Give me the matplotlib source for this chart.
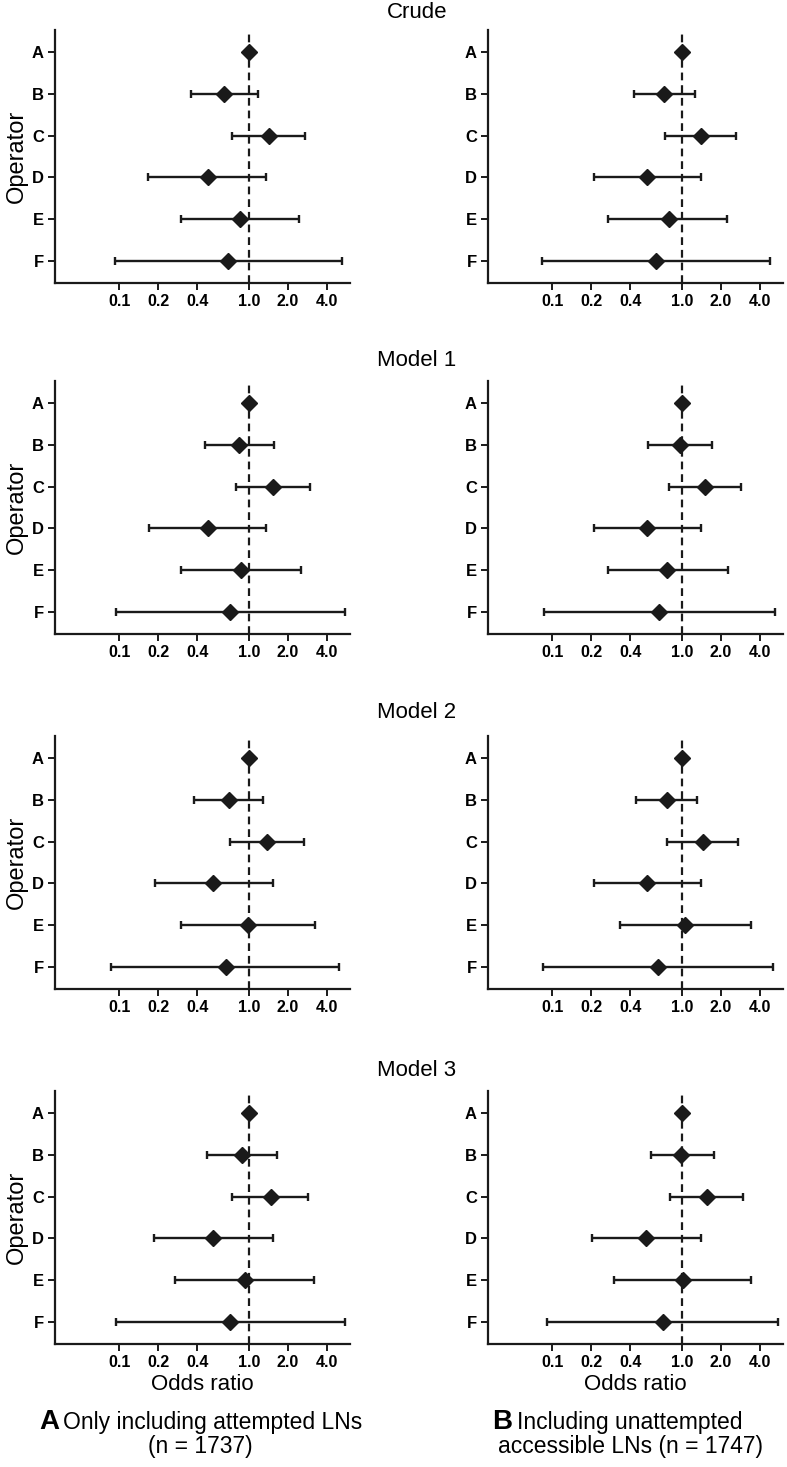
import numpy as np
import matplotlib
matplotlib.use("Agg")
import matplotlib.pyplot as plt

plt.rcParams['font.family'] = ['Liberation Sans', 'DejaVu Sans']

# Data: odds ratios (95% CI) per operator, one row per model
operators = ['A', 'B', 'C', 'D', 'E', 'F']
models = ['Crude', 'Model 1', 'Model 2', 'Model 3']
xticks = [0.1, 0.2, 0.4, 1.0, 2.0, 4.0]
xtick_labels = ['0.1', '0.2', '0.4', '1.0', '2.0', '4.0']

# (A) only including attempted LNs
or_attempted = [[1.0, 0.64, 1.42, 0.48, 0.85, 0.69],
                [1.0, 0.84, 1.54, 0.48, 0.87, 0.72],
                [1.0, 0.70, 1.37, 0.53, 0.98, 0.66],
                [1.0, 0.88, 1.47, 0.53, 0.93, 0.72]]
lo_attempted = [[1.0, 0.36, 0.74, 0.168, 0.30, 0.093],
                [1.0, 0.456, 0.80, 0.169, 0.30, 0.094],
                [1.0, 0.38, 0.71, 0.187, 0.30, 0.086],
                [1.0, 0.475, 0.74, 0.185, 0.27, 0.094]]
hi_attempted = [[1.0, 1.17, 2.70, 1.35, 2.43, 5.19],
                [1.0, 1.57, 2.94, 1.35, 2.51, 5.50],
                [1.0, 1.28, 2.65, 1.52, 3.24, 4.90],
                [1.0, 1.64, 2.86, 1.52, 3.18, 5.50]]

# (B) including unattempted accessible LNs
or_unattempted = [[1.0, 0.73, 1.39, 0.54, 0.79, 0.63],
                  [1.0, 0.97, 1.50, 0.54, 0.77, 0.67],
                  [1.0, 0.76, 1.44, 0.54, 1.06, 0.65],
                  [1.0, 0.99, 1.55, 0.53, 1.01, 0.71]]
lo_unattempted = [[1.0, 0.43, 0.74, 0.21, 0.27, 0.083],
                  [1.0, 0.545, 0.79, 0.21, 0.267, 0.087],
                  [1.0, 0.44, 0.77, 0.21, 0.33, 0.085],
                  [1.0, 0.58, 0.81, 0.204, 0.30, 0.091]]
hi_unattempted = [[1.0, 1.26, 2.59, 1.39, 2.23, 4.75],
                  [1.0, 1.71, 2.85, 1.40, 2.25, 5.20],
                  [1.0, 1.31, 2.70, 1.40, 3.43, 4.99],
                  [1.0, 1.76, 2.94, 1.39, 3.39, 5.50]]

W, H = 787, 1467
fig = plt.figure(figsize=(W / 100, H / 100), dpi=100)
ink = '#1a1a1a'

# panel placement in pixels
col_x = [55, 488]
ax_w = 295
row_top = [30, 381, 736, 1091]
ax_h = 253
title_y = [12, 360, 713, 1070]


def px_rect(x0, y0, w, h):
    return [x0 / W, 1 - (y0 + h) / H, w / W, h / H]


def forest(ax, ors, lo, hi, ylabel):
    y = np.arange(len(operators))
    ors = np.array(ors)
    lo = np.array(lo)
    hi = np.array(hi)
    has_ci = hi > lo
    ax.errorbar(ors[has_ci], y[has_ci],
                xerr=[ors[has_ci] - lo[has_ci], hi[has_ci] - ors[has_ci]],
                fmt='none', ecolor=ink, elinewidth=1.7, capsize=2.8, capthick=1.7, zorder=2)
    ax.axvline(1.0, color=ink, lw=1.6, dashes=(3.5, 2.2), zorder=3)
    ax.plot(ors, y, 'D', color=ink, ms=8.5, zorder=4)
    ax.set_xscale('log')
    ax.set_xlim(0.032, 6.0)
    ax.set_ylim(5.52, -0.52)
    ax.set_xticks(xticks)
    ax.set_xticklabels(xtick_labels, fontsize=11.5, fontweight='bold')
    ax.minorticks_off()
    ax.set_yticks(y)
    ax.set_yticklabels(operators, fontsize=12, fontweight='bold')
    for s in ['top', 'right']:
        ax.spines[s].set_visible(False)
    for s in ['left', 'bottom']:
        ax.spines[s].set_linewidth(1.6)
        ax.spines[s].set_color(ink)
    ax.tick_params(axis='both', direction='out', length=5, width=1.4, color=ink, pad=3)
    if ylabel:
        ax.set_ylabel('Operator', fontsize=17, labelpad=3)


for r in range(4):
    axl = fig.add_axes(px_rect(col_x[0], row_top[r], ax_w, ax_h))
    forest(axl, or_attempted[r], lo_attempted[r], hi_attempted[r], True)
    axr = fig.add_axes(px_rect(col_x[1], row_top[r], ax_w, ax_h))
    forest(axr, or_unattempted[r], lo_unattempted[r], hi_unattempted[r], False)
    fig.text(417 / W, 1 - title_y[r] / H, models[r], fontsize=16, ha='center', va='center')
    if r == 3:
        for ax in (axl, axr):
            ax.set_xlabel('Odds ratio', fontsize=16, labelpad=3)

# captions
fig.text(39 / W, 1 - 1422 / H, 'A', fontsize=20, fontweight='bold', ha='left', va='center')
fig.text(63 / W, 1 - 1423 / H, 'Only including attempted LNs', fontsize=16.5, ha='left', va='center')
fig.text(200 / W, 1 - 1446 / H, '(n = 1737)', fontsize=16.5, ha='center', va='center')
fig.text(492 / W, 1 - 1422 / H, 'B', fontsize=20, fontweight='bold', ha='left', va='center')
fig.text(517 / W, 1 - 1423 / H, 'Including unattempted', fontsize=16.5, ha='left', va='center')
fig.text(631 / W, 1 - 1446 / H, 'accessible LNs (n = 1747)', fontsize=16.5, ha='center', va='center')

fig.savefig('out.png', dpi=100, facecolor='white')
